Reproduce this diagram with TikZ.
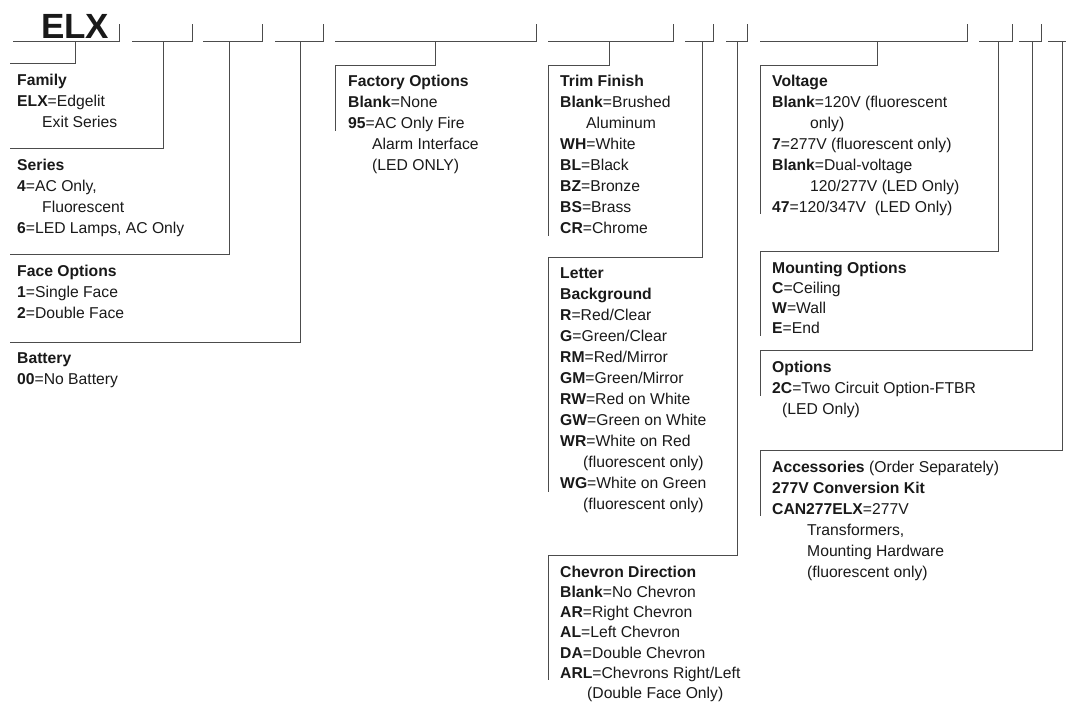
\documentclass[tikz,border=0pt]{standalone}
\usepackage{fontspec}
\setmainfont{Liberation Sans}
\usepackage{xcolor}
\usepackage{tikz}

\tikzset{
  bar/.style={line width=1pt, black!70},
  blk/.style={font=\fontsize{15.7}{21}\selectfont, inner sep=0pt, anchor=base west, text=black!90},
}
\newcommand{\ind}[1]{\hspace*{#1pt}}
\newcommand{\entries}[1]{\begin{tabular}[t]{@{}l@{}}#1\end{tabular}}

\begin{document}
\begin{tikzpicture}[x=1pt,y=-1pt]
	% Keep the page the size of the sheet
	\useasboundingbox (0,0) rectangle (1066,707);

	% Catalog number
	\node[font=\bfseries\fontsize{35}{35}\selectfont, anchor=base west, inner sep=0pt, text=black!90] (elx) at (41,38) {ELX};

	% Blanks of the catalog number, with a stem under each
	\foreach \a/\b/\s [count=\i] in {13/119/75, 132/192/163, 203/262/229, 275/323/300,
		335/536/435, 548/673/609, 685/713/702, 726/747/737, 760/967/877,
		979/1012/998, 1019/1041/1032} {
		\draw[bar] (\a,41) -- (\b,41) -- (\b,24);
		\coordinate (s\i) at (\s,41);
	}
	\draw[bar] (1048,41) -- (1066,41);
	\coordinate (s12) at (1062,41);

	% Left column
	\coordinate (famL) at (10,63);
	\coordinate (serL) at (10,148);
	\coordinate (faceL) at (10,254);
	\coordinate (batL) at (10,342);
	\draw[bar] (s1) |- (famL);
	\draw[bar] (s2) |- (serL);
	\draw[bar] (s3) |- (faceL);
	\draw[bar] (s4) |- (batL);

	\node[blk] (fam) at (17,85) {\entries{\textbf{Family}\\ \textbf{ELX}=Edgelit\\ \ind{25}Exit Series}};
	\node[blk] (ser) at (17,170) {\entries{\textbf{Series}\\ \textbf{4}=AC Only,\\ \ind{25}Fluorescent\\ \textbf{6}=LED Lamps, AC Only}};
	\node[blk] (face) at (17,276) {\entries{\textbf{Face Options}\\ \textbf{1}=Single Face\\ \textbf{2}=Double Face}};
	\node[blk] (bat) at (17,363) {\entries{\textbf{Battery}\\ \textbf{00}=No Battery}};

	% Factory options
	\coordinate (facL) at (335,65);
	\coordinate (facE) at (335,131);
	\draw[bar] (s5) |- (facL) -- (facE);
	\node[blk] (fac) at (348,86) {\entries{\textbf{Factory Options}\\ \textbf{Blank}=None\\ \textbf{95}=AC Only Fire\\ \ind{24}Alarm Interface\\ \ind{24}(LED ONLY)}};

	% Trim, letters, chevrons
	\coordinate (trimL) at (548,65);
	\coordinate (trimE) at (548,236);
	\draw[bar] (s6) |- (trimL) -- (trimE);
	\node[blk] (trim) at (560,86) {\entries{\textbf{Trim Finish}\\ \textbf{Blank}=Brushed\\ \ind{26}Aluminum\\ \textbf{WH}=White\\ \textbf{BL}=Black\\ \textbf{BZ}=Bronze\\ \textbf{BS}=Brass\\ \textbf{CR}=Chrome}};

	\coordinate (letL) at (548,257);
	\coordinate (letE) at (548,492);
	\draw[bar] (s7) |- (letL) -- (letE);
	\node[blk] (let) at (560,278) {\entries{\textbf{Letter}\\ \textbf{Background}\\ \textbf{R}=Red/Clear\\ \textbf{G}=Green/Clear\\ \textbf{RM}=Red/Mirror\\ \textbf{GM}=Green/Mirror\\ \textbf{RW}=Red on White\\ \textbf{GW}=Green on White\\ \textbf{WR}=White on Red\\ \ind{23}(fluorescent only)\\ \textbf{WG}=White on Green\\ \ind{23}(fluorescent only)}};

	\coordinate (chevL) at (548,555);
	\coordinate (chevE) at (548,680);
	\draw[bar] (s8) |- (chevL) -- (chevE);
	\node[blk, font=\fontsize{15.7}{20.3}\selectfont] (chev) at (560,577) {\entries{\textbf{Chevron Direction}\\ \textbf{Blank}=No Chevron\\ \textbf{AR}=Right Chevron\\ \textbf{AL}=Left Chevron\\ \textbf{DA}=Double Chevron\\ \textbf{ARL}=Chevrons Right/Left\\ \ind{27}(Double Face Only)}};

	% Voltage, mounting, options, accessories
	\coordinate (voltL) at (760,65);
	\coordinate (voltE) at (760,214);
	\draw[bar] (s9) |- (voltL) -- (voltE);
	\node[blk] (volt) at (772,86) {\entries{\textbf{Voltage}\\ \textbf{Blank}=120V (fluorescent\\ \ind{38}only)\\ \textbf{7}=277V (fluorescent only)\\ \textbf{Blank}=Dual-voltage\\ \ind{38}120/277V (LED Only)\\ \textbf{47}=120/347V\ \ (LED Only)}};

	\coordinate (mountL) at (760,251);
	\coordinate (mountE) at (760,336);
	\draw[bar] (s10) |- (mountL) -- (mountE);
	\node[blk, font=\fontsize{15.7}{20}\selectfont] (mount) at (772,273) {\entries{\textbf{Mounting Options}\\ \textbf{C}=Ceiling\\ \textbf{W}=Wall\\ \textbf{E}=End}};

	\coordinate (optL) at (760,350);
	\coordinate (optE) at (760,396);
	\draw[bar] (s11) |- (optL) -- (optE);
	\node[blk] (opt) at (772,372) {\entries{\textbf{Options}\\ \textbf{2C}=Two Circuit Option-FTBR\\ \ind{10}(LED Only)}};

	\coordinate (accL) at (760,450);
	\coordinate (accE) at (760,516);
	\draw[bar] (s12) |- (accL) -- (accE);
	\node[blk] (acc) at (772,472) {\entries{\textbf{Accessories} (Order Separately)\\ \textbf{277V Conversion Kit}\\ \textbf{CAN277ELX}=277V\\ \ind{35}Transformers,\\ \ind{35}Mounting Hardware\\ \ind{35}(fluorescent only)}};
\end{tikzpicture}
\end{document}
